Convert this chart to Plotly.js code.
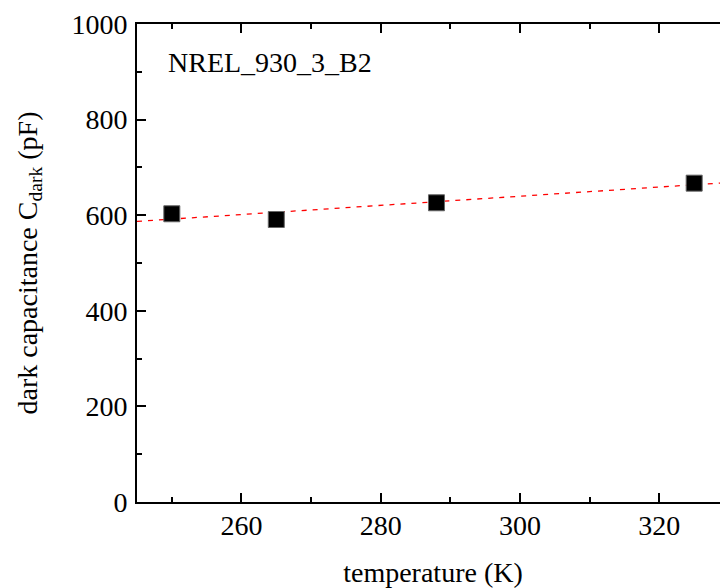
<!DOCTYPE html>
<html>
<head>
<meta charset="utf-8">
<script src="https://cdn.plot.ly/plotly-3.0.1.min.js"></script>
<style>
html, body { margin: 0; padding: 0; overflow: hidden; background: #fff; }
#chart { width: 730px; height: 588px; }
</style>
</head>
<body>
<div id="chart"></div>
<script>
// Measured points
var temperatureK = [250, 265, 288, 325];
var capacitancePF = [603, 591, 626, 667];

// Linear fit line (at the axis ends)
var fitTemperatureK = [245, 330];
var fitCapacitancePF = [587, 668.5];

var sampleLabel = 'NREL_930_3_B2';
var xTitle = 'temperature (K)';
var yTitle = 'dark capacitance C<sub>dark</sub> (pF)';

var serif = '"Liberation Serif", "Times New Roman", Times, serif';

var traces = [
  {
    x: fitTemperatureK, y: fitCapacitancePF,
    type: 'scatter', mode: 'lines',
    line: { color: '#ff0000', width: 1.3, dash: '5px,6px' },
    hoverinfo: 'skip', showlegend: false
  },
  {
    x: temperatureK, y: capacitancePF,
    type: 'scatter', mode: 'markers',
    marker: { symbol: 'square', size: 16, color: '#000', line: { color: '#666', width: 1 } },
    showlegend: false
  }
];

var axisCommon = {
  showline: true, linecolor: '#000', linewidth: 2,
  mirror: 'ticks', ticks: 'inside', ticklen: 9, tickwidth: 2, tickcolor: '#000',
  showgrid: false, zeroline: false,
  tickfont: { family: serif, size: 28, color: '#000' }
};

var layout = {
  width: 730, height: 588,
  margin: { l: 137, r: 1, t: 24, b: 86 },
  paper_bgcolor: '#fff', plot_bgcolor: '#fff',
  font: { family: serif, color: '#000' },
  xaxis: Object.assign({}, axisCommon, {
    range: [245, 330], tickvals: [260, 280, 300, 320],
    minor: { tickvals: [250, 270, 290, 310, 330], ticks: 'inside', ticklen: 5, tickwidth: 2, tickcolor: '#000' },
    ticklabelstandoff: -3,
    title: { text: xTitle, font: { family: serif, size: 28, color: '#000' }, standoff: 26 }
  }),
  yaxis: Object.assign({}, axisCommon, {
    range: [0, 1000], tickvals: [0, 200, 400, 600, 800, 1000],
    minor: { tickvals: [100, 300, 500, 700, 900], ticks: 'inside', ticklen: 5, tickwidth: 2, tickcolor: '#000' },
    ticklabelstandoff: 2,
    title: { text: yTitle, font: { family: serif, size: 28, color: '#000' }, standoff: 26 }
  }),
  annotations: [{
    x: 249.2, y: 920, xref: 'x', yref: 'y',
    xanchor: 'left', yanchor: 'middle', showarrow: false,
    text: sampleLabel, font: { family: serif, size: 28, color: '#000' }
  }]
};

Plotly.newPlot('chart', traces, layout, { displayModeBar: false, staticPlot: true });
</script>
</body>
</html>
